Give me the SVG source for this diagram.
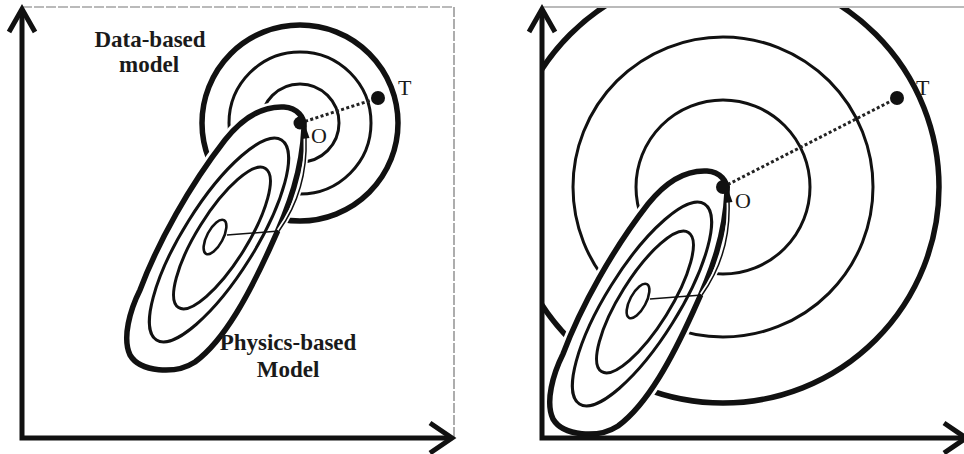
<svg xmlns="http://www.w3.org/2000/svg" xmlns:xlink="http://www.w3.org/1999/xlink" width="964" height="454" viewBox="0 0 964 454">
<style>
.axis{fill:none;stroke:#111;stroke-width:5;stroke-linejoin:miter}
.frame{fill:none;stroke:#777;stroke-width:1.2}
.thick{fill:none;stroke:#111;stroke-width:5.5}
.med{fill:none;stroke:#111;stroke-width:3}
.thin{fill:none;stroke:#111;stroke-width:2.6}
.halo{fill:#fff;stroke:#fff;stroke-width:11}
.dots{fill:none;stroke:#222;stroke-width:3;stroke-dasharray:3 2.4}
.pt{fill:#111}
.lbl{font-family:"Liberation Serif","Times New Roman",serif;font-weight:bold;font-size:23px;fill:#1a1a1a;text-anchor:middle}
.pl{font-family:"Liberation Serif","Times New Roman",serif;font-size:22px;fill:#1a1a1a}
.pth{fill:none;stroke:#111;stroke-width:1.5}
.pthh{fill:none;stroke:#fff;stroke-width:5}
</style>
<defs>
<path id="outerE" d="M304 128 C302 170 290 205 270 248 C250 292 225 340 195 362 C175 375 140 372 130 355 C122 338 130 310 140 290 C158 242 190 185 225 140 C245 115 265 106 284 107 C297 108 305 117 304 128 Z"/>
<g id="physics">
<use xlink:href="#outerE" class="halo"/>
<use xlink:href="#outerE" class="thick"/>
<ellipse cx="219" cy="240" rx="118" ry="36" transform="rotate(-58 219 240)" class="med"/>
<ellipse cx="222" cy="238" rx="82" ry="25" transform="rotate(-58 222 238)" class="med"/>
<ellipse cx="215" cy="237" rx="19" ry="8" transform="rotate(-62 215 237)" class="thin"/>
<path d="M227 235 L279 231" class="pth"/>
<path d="M279 231 Q308 190 306 138" class="pthh"/>
<path d="M279 231 Q308 190 306 138" class="pth"/>
<polygon points="306,128 301.5,139 309.5,138" class="pt"/>
</g>
<clipPath id="clipR"><rect x="543" y="8" width="421" height="430"/></clipPath>
</defs>

<g id="left-frame">
<path d="M22 7 H454 V438" class="frame" stroke-dasharray="10 2"/>
</g>
<g id="left-axes">
<path d="M22 9 V438 H452" class="axis"/>
<path d="M9 32 L22 9 L35 32" class="axis"/>
<path d="M430 423 L452 438 L430 453" class="axis"/>
</g>
<g id="left-data-model">
<circle cx="300" cy="123" r="98" class="thick"/>
<circle cx="300" cy="123" r="71" class="med"/>
<circle cx="300" cy="123" r="39" class="med"/>
</g>
<g id="left-physics-model">
<use xlink:href="#physics"/>
</g>
<g id="left-connectors">
<path d="M300 123 L378 98" class="dots"/>
</g>
<g id="left-point-O">
<circle cx="300" cy="123" r="6.5" class="pt"/>
<text x="311" y="143" class="pl">O</text>
</g>
<g id="left-point-T">
<circle cx="378" cy="98" r="7" class="pt"/>
<text x="398" y="95" class="pl">T</text>
</g>
<g id="left-labels">
<text x="150" y="47" class="lbl">Data-based</text>
<text x="149" y="72" class="lbl">model</text>
<text x="288" y="350" class="lbl">Physics-based</text>
<text x="288" y="377" class="lbl">Model</text>
</g>

<g id="right-frame">
<path d="M542 7 H964" class="frame"/>
</g>
<g id="right-data-model" clip-path="url(#clipR)">
<circle cx="723" cy="187" r="216" class="thick"/>
<circle cx="723" cy="187" r="150" class="med"/>
<circle cx="723" cy="187" r="87" class="med"/>
</g>
<g id="right-physics-model">
<use xlink:href="#physics" transform="translate(423 64)"/>
</g>
<g id="right-axes">
<path d="M542 9 V438 H964" class="axis"/>
<path d="M529 32 L542 9 L555 32" class="axis"/>
<path d="M944 423 L966 438 L944 453" class="axis"/>
</g>
<g id="right-connectors">
<path d="M723 187 L897 98" class="dots"/>
</g>
<g id="right-point-O">
<circle cx="723" cy="187" r="7" class="pt"/>
<text x="735" y="208" class="pl">O</text>
</g>
<g id="right-point-T">
<circle cx="897" cy="98" r="7" class="pt"/>
<text x="916" y="95" class="pl">T</text>
</g>
</svg>
